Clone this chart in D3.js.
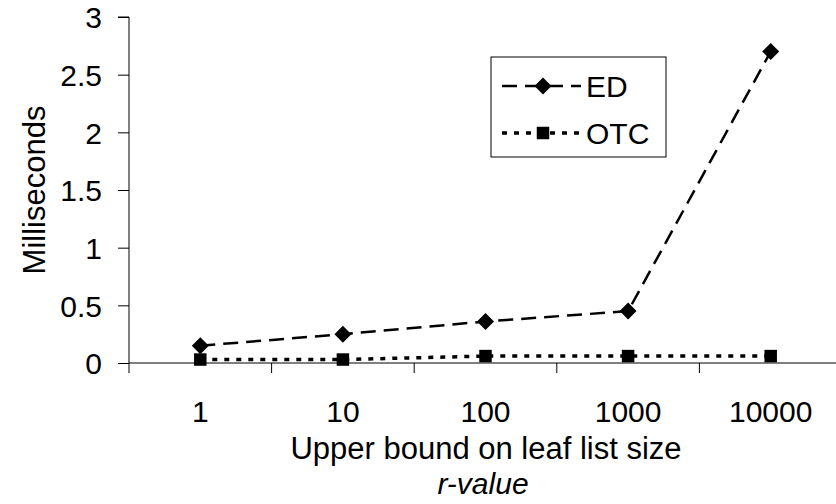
<!DOCTYPE html>
<html>
<head>
<style>
  body { margin: 0; background: #fff; }
  svg { display: block; font-family: "Liberation Sans", Arial, sans-serif; }
</style>
</head>
<body>
<script src="https://cdn.jsdelivr.net/npm/d3@7"></script>
<script>
// data
const categories = ["1", "10", "100", "1000", "10000"];
const edValues = [0.15, 0.25, 0.36, 0.45, 2.7];
const otcValues = [0.03, 0.03, 0.06, 0.06, 0.06];
const yTicks = [0, 0.5, 1, 1.5, 2, 2.5, 3];

const width = 836, height = 504;
const margin = {top: 17, right: -6, bottom: 141, left: 129};

const svg = d3.select("body").append("svg")
  .attr("width", width)
  .attr("height", height);

const x = d3.scaleBand()
  .domain(categories)
  .range([margin.left, width - margin.right]);

const y = d3.scaleLinear()
  .domain([0, 3])
  .range([height - margin.bottom, margin.top]);

// y axis
const yAxis = svg.append("g")
  .attr("transform", `translate(${margin.left},0)`)
  .call(d3.axisLeft(y).tickValues(yTicks).tickSize(11).tickPadding(16).tickFormat(d3.format("")));
yAxis.selectAll("text").style("font-size", "30px").attr("fill", "#000").attr("dy", "0.36em");
yAxis.selectAll("line, path").attr("stroke", "#000");
yAxis.select(".domain").attr("d", `M-11,${y(3)}H0V${y(0)}`);

// x axis: ticks at the category boundaries
const xAxis = svg.append("g")
  .attr("transform", `translate(0,${y(0)})`);
xAxis.append("line")
  .attr("x1", margin.left).attr("x2", width)
  .attr("stroke", "#000");
const bounds = categories.map(c => x(c)).concat([x.range()[1]]);
xAxis.selectAll("line.tick")
  .data(bounds)
  .join("line")
  .attr("class", "tick")
  .attr("x1", d => d).attr("x2", d => d)
  .attr("y1", 0).attr("y2", 10)
  .attr("stroke", "#000");
xAxis.selectAll("text")
  .data(categories)
  .join("text")
  .attr("x", d => x(d) + x.bandwidth() / 2)
  .attr("y", 59)
  .attr("text-anchor", "middle")
  .style("font-size", "30px")
  .text(d => d);

// titles
svg.append("text")
  .attr("transform", `translate(45,${(y(0) + y(3)) / 2}) rotate(-90)`)
  .attr("text-anchor", "middle")
  .style("font-size", "31px")
  .text("Milliseconds");
svg.append("text")
  .attr("x", 486).attr("y", 459)
  .attr("text-anchor", "middle")
  .style("font-size", "31px")
  .text("Upper bound on leaf list size");
svg.append("text")
  .attr("x", 483).attr("y", 494)
  .attr("text-anchor", "middle")
  .style("font-size", "30px")
  .style("font-style", "italic")
  .text("r-value");

const cx = d => x(d) + x.bandwidth() / 2;
const line = d3.line().x(d => cx(d[0])).y(d => y(d[1]));

const edData = categories.map((c, i) => [c, edValues[i]]);
const otcData = categories.map((c, i) => [c, otcValues[i]]);

const edDash = "15,8", otcDash = "5,7";

svg.append("path")
  .datum(otcData)
  .attr("d", line)
  .attr("fill", "none")
  .attr("stroke", "#000")
  .attr("stroke-width", 3.5)
  .attr("stroke-dasharray", otcDash);

svg.append("path")
  .datum(edData)
  .attr("d", line)
  .attr("fill", "none")
  .attr("stroke", "#000")
  .attr("stroke-width", 2.5)
  .attr("stroke-dasharray", edDash);

const diamond = d3.symbol().type(d3.symbolSquare).size(144);
const square = d3.symbol().type(d3.symbolSquare).size(156);

svg.append("g").selectAll("path")
  .data(edData)
  .join("path")
  .attr("transform", d => `translate(${cx(d[0])},${y(d[1])}) rotate(45)`)
  .attr("d", diamond)
  .attr("fill", "#000");

svg.append("g").selectAll("path")
  .data(otcData)
  .join("path")
  .attr("transform", d => `translate(${cx(d[0])},${y(d[1])})`)
  .attr("d", square)
  .attr("fill", "#000");

// legend
const lg = svg.append("g").attr("transform", "translate(491,57)");
lg.append("rect")
  .attr("width", 175).attr("height", 100)
  .attr("fill", "#fff")
  .attr("stroke", "#000");
const legendItems = [
  {name: "ED", y: 29, dash: edDash, sw: 2.5, mark: "diamond"},
  {name: "OTC", y: 76, dash: otcDash, sw: 3.5, mark: "square"}
];
legendItems.forEach(it => {
  lg.append("line")
    .attr("x1", 11).attr("x2", 90)
    .attr("y1", it.y).attr("y2", it.y)
    .attr("stroke", "#000")
    .attr("stroke-width", it.sw)
    .attr("stroke-dasharray", it.dash);
  lg.append("path")
    .attr("transform", `translate(52,${it.y})` + (it.mark === "diamond" ? " rotate(45)" : ""))
    .attr("d", it.mark === "diamond" ? diamond : square)
    .attr("fill", "#000");
  lg.append("text")
    .attr("x", 95).attr("y", it.y + 11)
    .style("font-size", "30px")
    .text(it.name);
});
</script>
</body>
</html>
